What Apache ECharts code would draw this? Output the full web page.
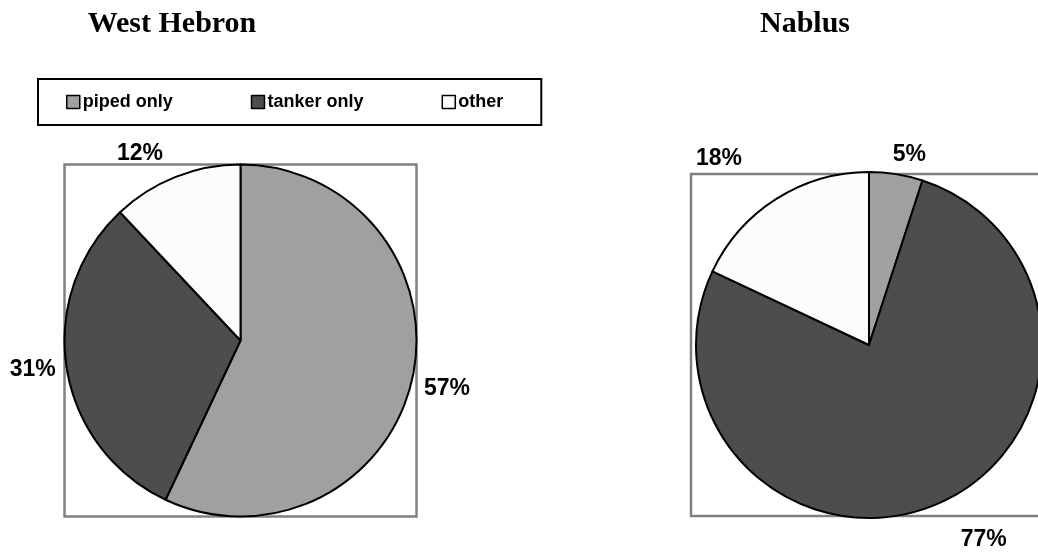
<!DOCTYPE html>
<html>
<head>
<meta charset="utf-8">
<script src="https://cdn.jsdelivr.net/npm/echarts@6/dist/echarts.min.js"></script>
<style>
  html, body { margin: 0; padding: 0; background: #fff; }
  #chart { width: 1038px; height: 552px; }
</style>
</head>
<body>
<div id="chart"></div>
<script>
var categories = ['piped only', 'tanker only', 'other'];
var westHebron = [57, 31, 12];
var nablus = [5, 77, 18];
var colors = ['#a0a0a0', '#4d4d4d', '#fcfcfc'];

var chartDom = document.getElementById('chart');
var myChart = echarts.init(chartDom);

// pie geometry (px) and label nudges, Excel-style best fit
var wh = { cx: 240.5, cy: 340.5, r: 176, nudge: [[-7, 8], [8, 0], [0, -14]] };
var nb = { cx: 869, cy: 345, r: 173, nudge: [[-14, -10], [10, 28], [-20, -32]] };

const pieSeries = (name, vals, g) => {
  return {
    name: name,
    type: 'pie',
    center: [g.cx, g.cy],
    radius: g.r,
    startAngle: 90,
    clockwise: true,
    animation: false,
    silent: true,
    itemStyle: { borderColor: '#000', borderWidth: 2 },
    label: {
      show: true,
      position: 'outside',
      formatter: '{c}%',
      overflow: 'none',
      color: '#000',
      fontFamily: 'Liberation Sans, Arial, sans-serif',
      fontWeight: 'bold',
      fontSize: 23
    },
    labelLine: { show: false, length: 10, length2: 4 },
    data: vals.map((v, i) => ({ name: categories[i], value: v, label: { offset: g.nudge[i] } }))
  };
};

var frame = { type: 'rect', silent: true, z: -1, style: { fill: 'none', stroke: '#808080', lineWidth: 2.5 } };

var option = {
  color: colors,
  title: [
    { text: 'West Hebron', left: 167, top: 4, textAlign: 'center',
      textStyle: { fontFamily: 'Liberation Serif, Times New Roman, serif', fontWeight: 'bold', fontSize: 30, color: '#000' } },
    { text: 'Nablus', left: 800, top: 4, textAlign: 'center',
      textStyle: { fontFamily: 'Liberation Serif, Times New Roman, serif', fontWeight: 'bold', fontSize: 30, color: '#000' } }
  ],
  legend: {
    data: categories,
    left: 38,
    top: 79,
    padding: [14, 38, 14, 28],
    itemGap: 78,
    itemWidth: 13,
    itemHeight: 13,
    icon: 'rect',
    borderColor: '#000',
    borderWidth: 2,
    itemStyle: { borderColor: '#000', borderWidth: 1.5 },
    textStyle: { fontFamily: 'Liberation Sans, Arial, sans-serif', fontWeight: 'bold', fontSize: 18, color: '#000', padding: [0, 0, 0, -2] }
  },
  graphic: [
    Object.assign({}, frame, { shape: { x: wh.cx - wh.r, y: wh.cy - wh.r, width: wh.r * 2, height: wh.r * 2 } }),
    Object.assign({}, frame, { shape: { x: 691, y: 174, width: 360, height: 342 } })
  ],
  series: [
    pieSeries('West Hebron', westHebron, wh),
    pieSeries('Nablus', nablus, nb)
  ]
};

myChart.setOption(option);
</script>
</body>
</html>
